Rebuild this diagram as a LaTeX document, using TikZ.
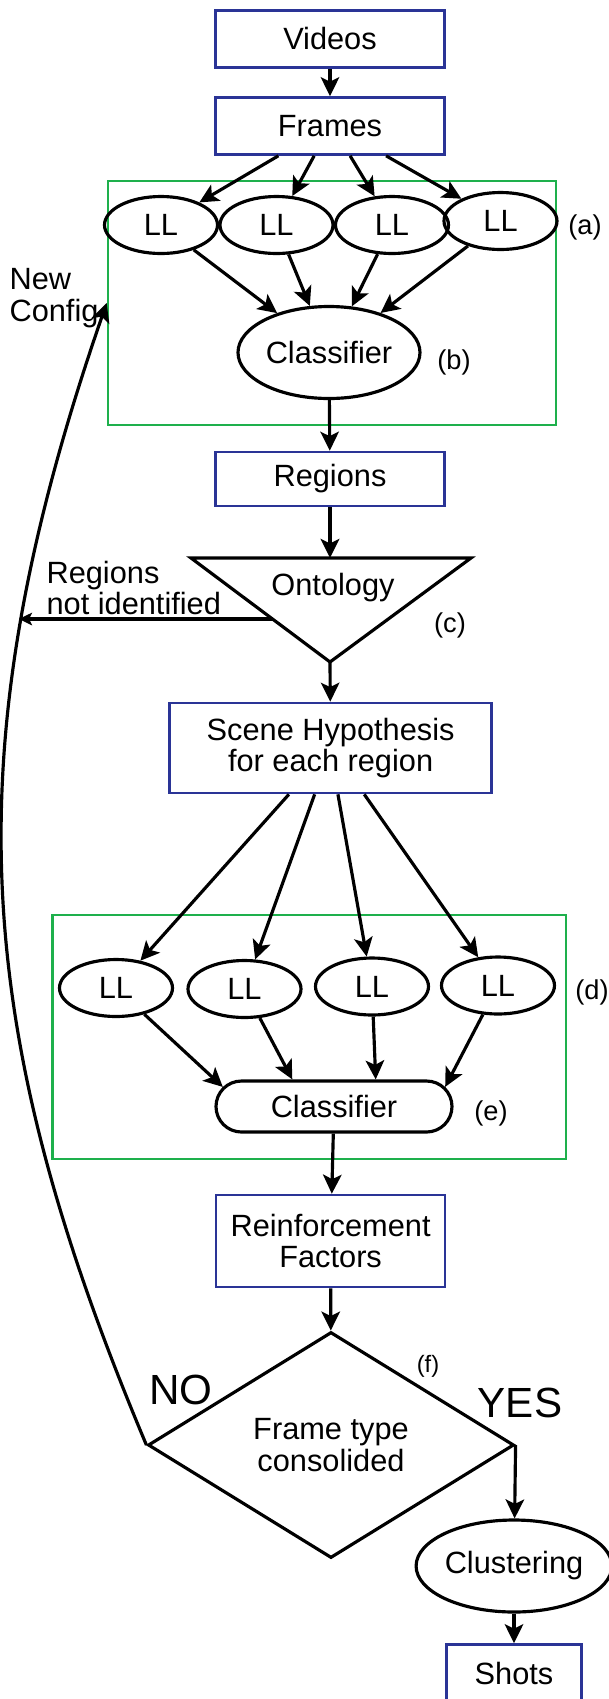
\documentclass[tikz,border=0pt]{standalone}
\usepackage{fontspec}
\setmainfont{Liberation Sans}
\usetikzlibrary{arrows.meta,shapes.geometric,shapes.misc}
\definecolor{boxblue}{RGB}{42,52,150}
\definecolor{grpgreen}{RGB}{30,176,76}
\tikzset{
  blk/.style={draw=boxblue,line width=1.5pt,minimum width=45.8mm,minimum height=11.4mm,inner sep=0pt,align=center},
  grp/.style={draw=grpgreen,line width=1.5pt,minimum height=48.8mm,inner sep=0pt},
  llnode/.style={draw,ellipse,minimum width=22.6mm,minimum height=11.4mm,inner sep=0pt},
  tag/.style={font=\fontsize{15.5}{17}\selectfont},
  bigword/.style={font=\fontsize{24}{26}\selectfont}
}

\begin{document}
\begin{tikzpicture}[x=0.2mm,y=-0.2mm,>={Stealth[length=3.8mm,width=3.7mm,inset=0.9mm]},
  line width=1.8pt,font=\fontsize{17.5}{18}\selectfont]
\useasboundingbox (0,0) rectangle (608,1699);

\node[blk] (videos) at (330,39) {Videos};
\node[blk] (frames) at (330,126) {Frames};

% first group
\node[grp,minimum width=89.6mm] (grpA) at (332,303) {};
\node[llnode] (llA1) at (161,225) {LL};
\node[llnode] (llA2) at (276.5,225) {LL};
\node[llnode] (llA3) at (392,225) {LL};
\node[llnode] (llA4) at (500.5,221) {LL};
\node[tag] (tagA) at (585,227) {(a)};
\node[draw,ellipse,minimum width=36.4mm,minimum height=18.4mm,inner sep=0pt] (clsA) at (329,352.5) {Classifier};
\node[tag] (tagB) at (454,362) {(b)};

\node[blk,minimum height=10.8mm] (regions) at (330,479) {Regions};

% ontology
\coordinate (ontTL) at (191,558);
\coordinate (ontTR) at (471,558);
\coordinate (ontT) at (330,558);
\coordinate (ontB) at (330,662);
\coordinate (ontX) at (273,619);
\coordinate (nidEnd) at (19,619);
\draw (ontTL) -- (ontTR) -- (ontB) -- cycle;
\node (onto) at (333,588) {Ontology};
\node[tag] (tagC) at (450,625) {(c)};
\node[anchor=west,align=left,inner sep=0pt] (nid) at (45,588) {Regions\\not identified};
\node[anchor=west,align=left,inner sep=0pt] (newcfg) at (8,298) {New\\Config};

\node[blk,minimum width=64.4mm,minimum height=18mm] (scene) at (330.6,748) {Scene Hypothesis\\for each region};

% second group
\node[grp,minimum width=102.7mm] (grpB) at (309.3,1037) {};
\node[llnode] (llB1) at (116,988) {LL};
\node[llnode] (llB2) at (244.5,989) {LL};
\node[llnode] (llB3) at (372,986.5) {LL};
\node[llnode] (llB4) at (498,985.5) {LL};
\node[tag] (tagD) at (592,992) {(d)};
\node[draw,rounded rectangle,minimum width=47.2mm,minimum height=10.2mm,inner sep=0pt] (clsB) at (334,1106.5) {Classifier};
\node[tag] (tagE) at (491,1113) {(e)};

\node[blk,minimum height=18.4mm] (reinf) at (330.6,1241) {Reinforcement\\Factors};

% decision
\node[draw,diamond,minimum width=73.2mm,minimum height=45.2mm,inner sep=0pt,align=center] (consol) at (331,1445) {Frame type\\consolided};
\node[bigword] (no) at (181,1390) {NO};
\node[bigword] (yes) at (520,1403) {YES};
\node[tag,font=\fontsize{13.5}{15}\selectfont] (tagF) at (428,1366) {(f)};
\node[draw,ellipse,minimum width=36.6mm,minimum height=18.4mm,inner sep=0pt] (clust) at (514,1566) {Clustering};
\node[blk,minimum width=27mm] (shots) at (514,1673) {Shots};

\draw[->] (videos) -- (frames);
\draw[->] (frames.210) -- (llA1);
\draw[->] (frames.242) -- (llA2);
\draw[->] (frames.304) -- (llA3);
\draw[->] (frames.332) -- (llA4);
\draw[->] (llA1) -- (clsA);
\draw[->] (llA2) -- (clsA);
\draw[->] (llA3) -- (clsA);
\draw[->] (llA4) -- (clsA);
\draw[->] (clsA) -- (regions);
\draw[->] (regions) -- (ontT);
\draw[->] (ontB) -- (scene);
\draw[-{Stealth[length=2.6mm,width=2.5mm,inset=0.6mm]}] (ontX) -- (nidEnd);
\draw[->] (scene.228) -- (llB1);
\draw[->] (scene.251) -- (llB2);
\draw[->] (scene.279) -- (llB3);
\draw[->] (scene.306) -- (llB4);
\draw[->] (llB1) -- (clsB.170);
\draw[->] (llB2) -- (clsB.147);
\draw[->] (llB3) -- (clsB.33);
\draw[->] (llB4) -- (clsB.10);
\draw[->] (clsB) -- (reinf);
\draw[->] (reinf) -- (consol);
\draw[->] (consol.east) -- (clust);
\draw[->] (clust) -- (shots);
\draw[->] (consol.west) .. controls (-27,1032.5) and (-49.6,754.5) .. (grpA.west);

\end{tikzpicture}
\end{document}
